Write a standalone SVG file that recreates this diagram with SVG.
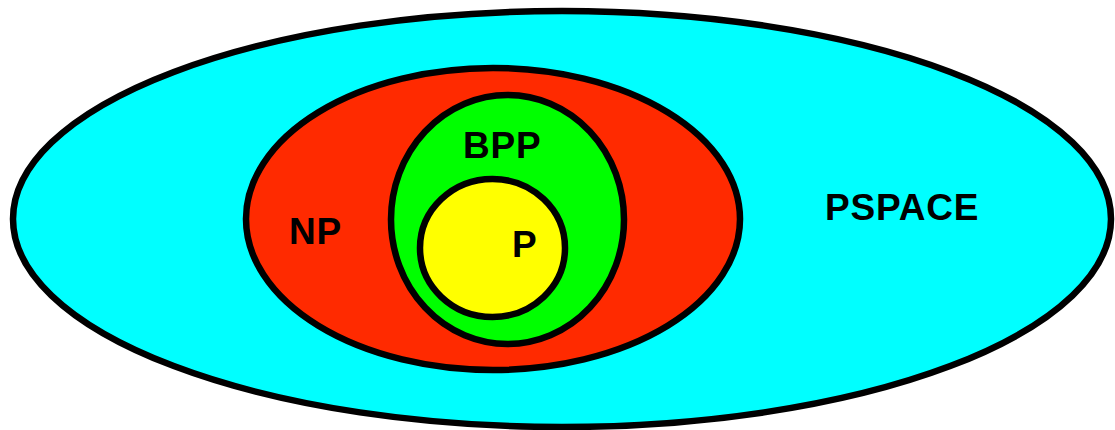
<svg xmlns="http://www.w3.org/2000/svg" width="1115" height="430" viewBox="0 0 1115 430">
<style>
.set{stroke:#000;stroke-width:6.5}
.lbl{font-family:"Liberation Sans",Arial,sans-serif;font-weight:bold;font-size:37px;letter-spacing:0.8px;fill:#000}
</style>
<rect width="1115" height="430" fill="#fff"/>
<g id="pspace">
<ellipse class="set" cx="562" cy="219" rx="549" ry="208" fill="#00FFFF"/>
<text class="lbl" x="825" y="220">PSPACE</text>
</g>
<g id="np">
<ellipse class="set" cx="493" cy="219" rx="247" ry="151" fill="#FF2A00"/>
<text class="lbl" x="289" y="244">NP</text>
</g>
<g id="bpp">
<ellipse class="set" cx="507.5" cy="219.5" rx="116.5" ry="124.5" fill="#00FF00"/>
<text class="lbl" x="463" y="158">BPP</text>
</g>
<g id="p">
<ellipse class="set" cx="492.5" cy="248" rx="72.5" ry="69" fill="#FFFF00"/>
<text class="lbl" x="512" y="257">P</text>
</g>
<g id="connectors"/>
</svg>
